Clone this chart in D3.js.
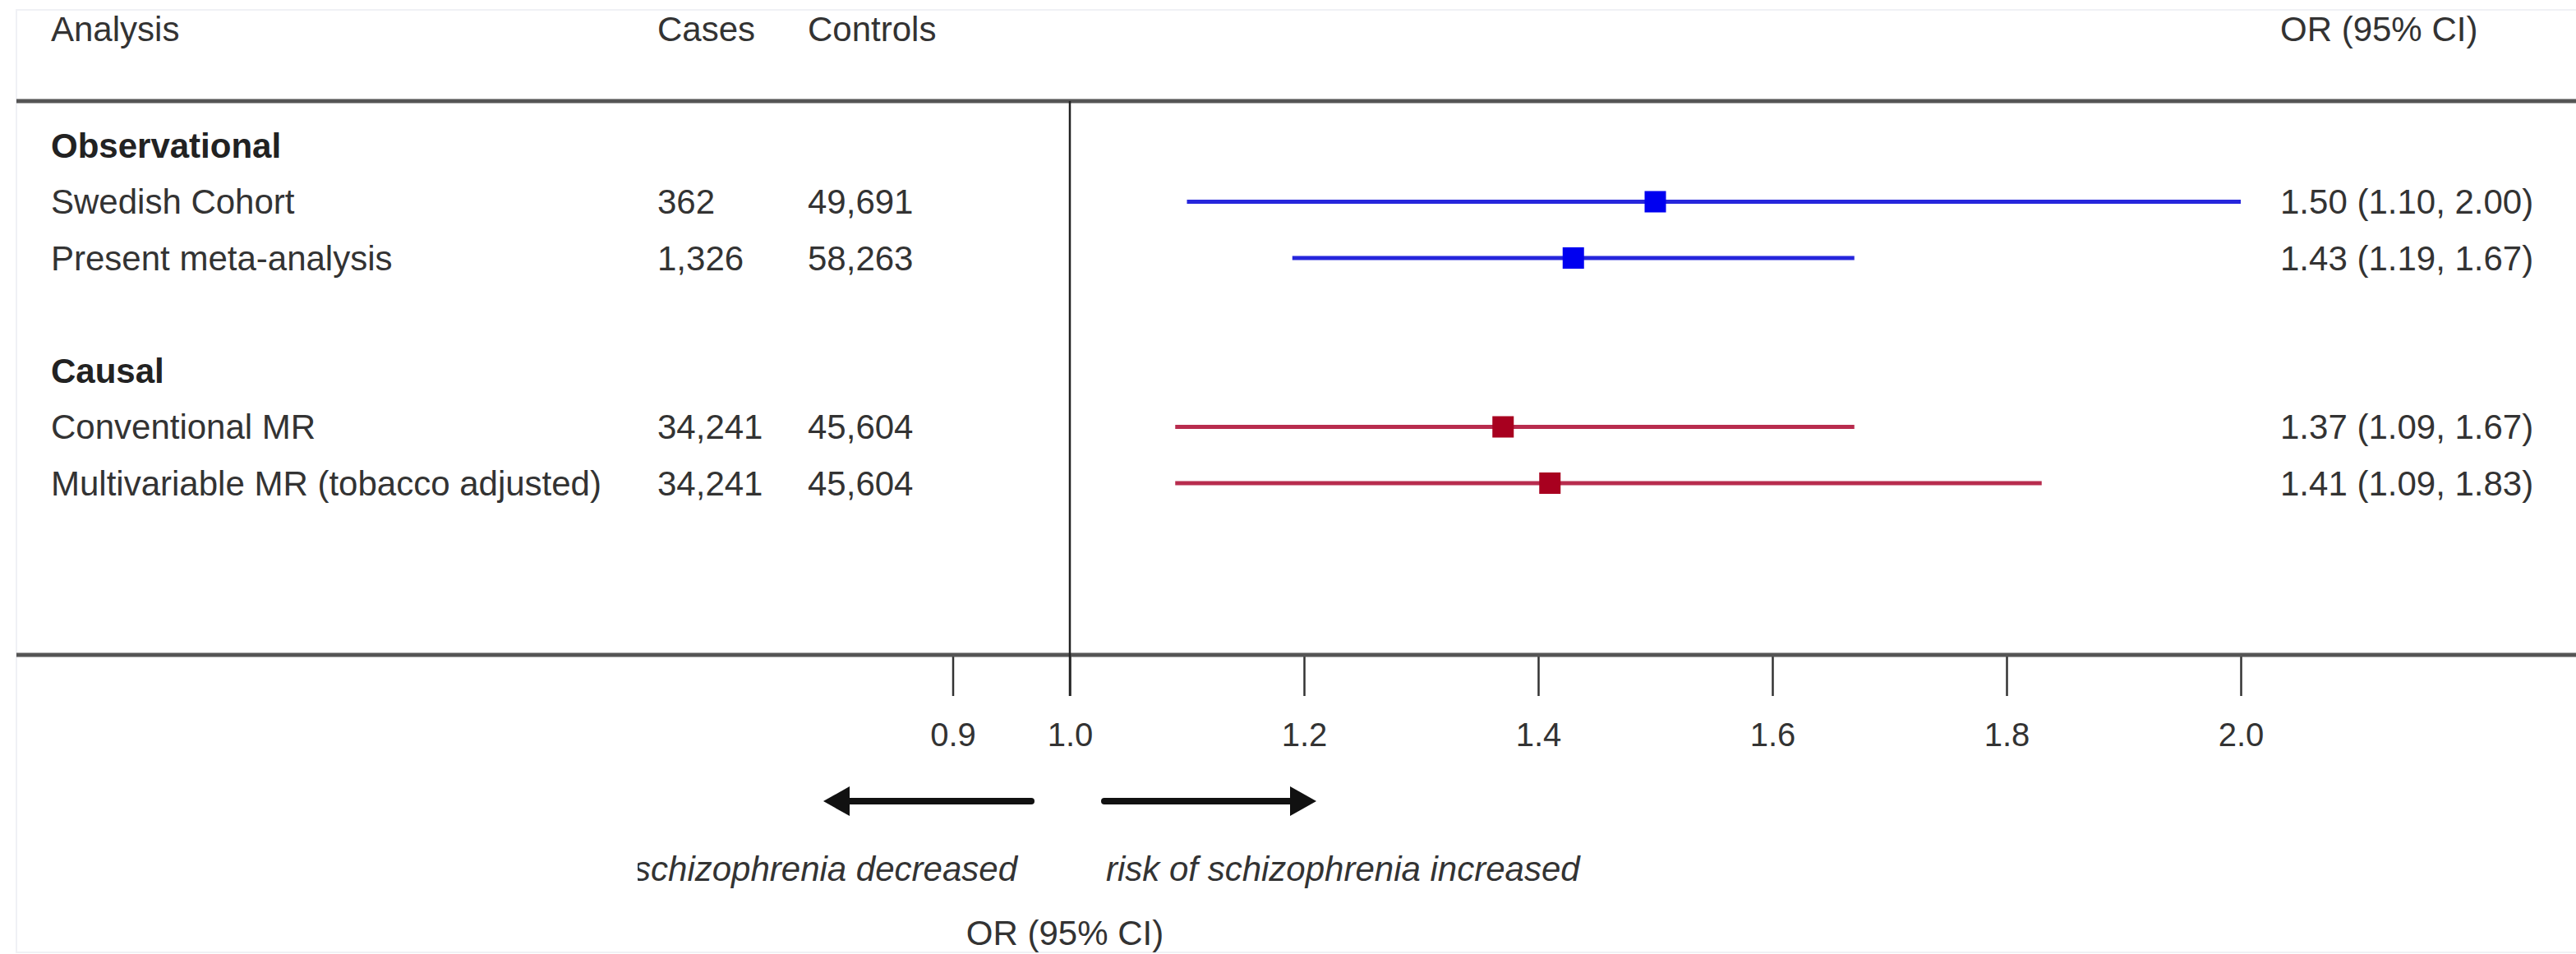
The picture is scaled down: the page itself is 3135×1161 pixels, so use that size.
<!DOCTYPE html>
<html>
<head>
<meta charset="utf-8">
<script src="https://cdn.jsdelivr.net/npm/d3@7"></script>
<style>
    body { margin: 0; background: #fff; }
    svg { display: block; }
    text { font-family: "Liberation Sans", Arial, sans-serif; font-size: 42px; fill: #333; }
</style>
</head>
<body>
<div id="chart-container"></div>
<script>
(function(){
    /* global d3 */
    var analyses = ['Swedish Cohort', 'Present meta-analysis', 'Conventional MR', 'Multivariable MR (tobacco adjusted)'];
    var groups = ['Observational', 'Observational', 'Causal', 'Causal'];
    var groupLabels = ['Observational', 'Causal'];
    var cases = ['362', '1,326', '34,241', '34,241'];
    var controls = ['49,691', '58,263', '45,604', '45,604'];
    var orValues = [1.50, 1.43, 1.37, 1.41];
    var ciLow = [1.10, 1.19, 1.09, 1.09];
    var ciHigh = [2.00, 1.67, 1.67, 1.83];
    var tickValues = [0.9, 1.0, 1.2, 1.4, 1.6, 1.8, 2.0];
    var headers = ['Analysis', 'Cases', 'Controls', 'OR (95% CI)'];

    var groupColors = { Observational: { line: '#2626dc', mark: '#0000f0' },
                        Causal: { line: '#b82c4e', mark: '#a8001f' } };

    createChart();

    function createChart(){
        var width = 3135, height = 1161;
        var colX = [62, 800, 983, 2775];
        var axisY = 797, headLineY = 123;

        var x = d3.scaleLinear().domain([1, 2]).range([1302, 2727]);

        // build the table rows: group title, its analyses, then a blank row
        var rows = [];
        groupLabels.forEach(g => {
            rows.push({ type: 'group', label: g });
            analyses.forEach((a, i) => { if (groups[i] === g) rows.push({ type: 'item', i: i }); });
            rows.push({ type: 'blank' });
        });
        rows.forEach((r, k) => r.k = k);

        var y = d3.scaleLinear().domain([0, 6]).range([177, 588]);
        var f2 = d3.format('.2f');

        var svg = d3.select('#chart-container')
            .append('svg')
            .attr('width', width)
            .attr('height', height);

        // faint frame of the original figure
        svg.append('rect')
            .attr('x', 20).attr('y', 12)
            .attr('width', width).attr('height', 1147)
            .attr('fill', 'none')
            .attr('stroke', '#f0f1f5')
            .attr('stroke-width', 2);

        // header
        svg.selectAll('text.head')
            .data(headers).enter()
            .append('text')
            .attr('class', 'head')
            .attr('x', (d, i) => colX[i])
            .attr('y', 35)
            .attr('dy', '0.35em')
            .text(d => d);

        svg.append('line')
            .attr('x1', 20).attr('x2', width)
            .attr('y1', headLineY).attr('y2', headLineY)
            .attr('stroke', '#555').attr('stroke-width', 5);

        // axis
        var axis = d3.axisBottom(x)
            .tickValues(tickValues)
            .tickFormat(d3.format('.1f'))
            .tickSizeInner(50)
            .tickSizeOuter(0)
            .tickPadding(33);

        var gx = svg.append('g')
            .attr('transform', 'translate(0,' + axisY + ')')
            .call(axis);
        gx.select('.domain').remove();
        gx.selectAll('.tick line').attr('stroke', '#333').attr('stroke-width', 2.5);
        gx.selectAll('.tick text').style('font-size', '40px').attr('fill', '#333');

        svg.append('line')
            .attr('x1', 20).attr('x2', width)
            .attr('y1', axisY).attr('y2', axisY)
            .attr('stroke', '#555').attr('stroke-width', 5);

        // null line at OR = 1
        svg.append('line')
            .attr('x1', x(1)).attr('x2', x(1))
            .attr('y1', headLineY).attr('y2', axisY + 50)
            .attr('stroke', '#222').attr('stroke-width', 2.5);

        // group titles
        svg.selectAll('text.group')
            .data(rows.filter(r => r.type === 'group')).enter()
            .append('text')
            .attr('class', 'group')
            .attr('x', colX[0])
            .attr('y', d => y(d.k))
            .attr('dy', '0.35em')
            .style('font-weight', 'bold')
            .style('fill', '#222')
            .text(d => d.label);

        var items = svg.selectAll('g.item')
            .data(rows.filter(r => r.type === 'item')).enter()
            .append('g')
            .attr('class', 'item')
            .attr('transform', d => 'translate(0,' + y(d.k) + ')');

        items.append('text').attr('x', colX[0]).attr('dy', '0.35em').text(d => analyses[d.i]);
        items.append('text').attr('x', colX[1]).attr('dy', '0.35em').text(d => cases[d.i]);
        items.append('text').attr('x', colX[2]).attr('dy', '0.35em').text(d => controls[d.i]);
        items.append('text').attr('x', colX[3]).attr('dy', '0.35em')
            .text(d => f2(orValues[d.i]) + ' (' + f2(ciLow[d.i]) + ', ' + f2(ciHigh[d.i]) + ')');

        items.append('line')
            .attr('x1', d => x(ciLow[d.i]))
            .attr('x2', d => x(ciHigh[d.i]))
            .attr('stroke', d => groupColors[groups[d.i]].line)
            .attr('stroke-width', 5);

        var sq = 26;
        items.append('rect')
            .attr('x', d => x(orValues[d.i]) - sq / 2)
            .attr('y', -sq / 2)
            .attr('width', sq).attr('height', sq)
            .attr('fill', d => groupColors[groups[d.i]].mark);

        // direction arrows
        var arrowY = 975;
        drawArrow(x(1) - 47, x(1) - 300);
        drawArrow(x(1) + 42, x(1) + 300);

        function drawArrow(from, to){
            var dir = to > from ? 1 : -1;
            var headLen = 32, headHalf = 18;
            svg.append('line')
                .attr('x1', from).attr('x2', to - dir * headLen + dir * 2)
                .attr('y1', arrowY).attr('y2', arrowY)
                .attr('stroke', '#111').attr('stroke-width', 8)
                .attr('stroke-linecap', 'round');
            svg.append('path')
                .attr('d', 'M' + to + ',' + arrowY +
                    'L' + (to - dir * headLen) + ',' + (arrowY - headHalf) +
                    'L' + (to - dir * headLen) + ',' + (arrowY + headHalf) + 'Z')
                .attr('fill', '#111');
        }

        svg.append('clipPath').attr('id', 'leftClip')
            .append('rect').attr('x', 776).attr('y', 0).attr('width', width).attr('height', height);

        svg.append('text')
            .attr('x', x(1) - 64).attr('y', 1057).attr('dy', '0.35em')
            .attr('text-anchor', 'end')
            .attr('clip-path', 'url(#leftClip)')
            .style('font-style', 'italic')
            .text('risk of schizophrenia decreased');

        svg.append('text')
            .attr('x', x(1) + 44).attr('y', 1057).attr('dy', '0.35em')
            .style('font-style', 'italic')
            .text('risk of schizophrenia increased');

        svg.append('text')
            .attr('x', x(1) - 6).attr('y', 1135).attr('dy', '0.35em')
            .attr('text-anchor', 'middle')
            .text('OR (95% CI)');
    }
})();
</script>
</body>
</html>
